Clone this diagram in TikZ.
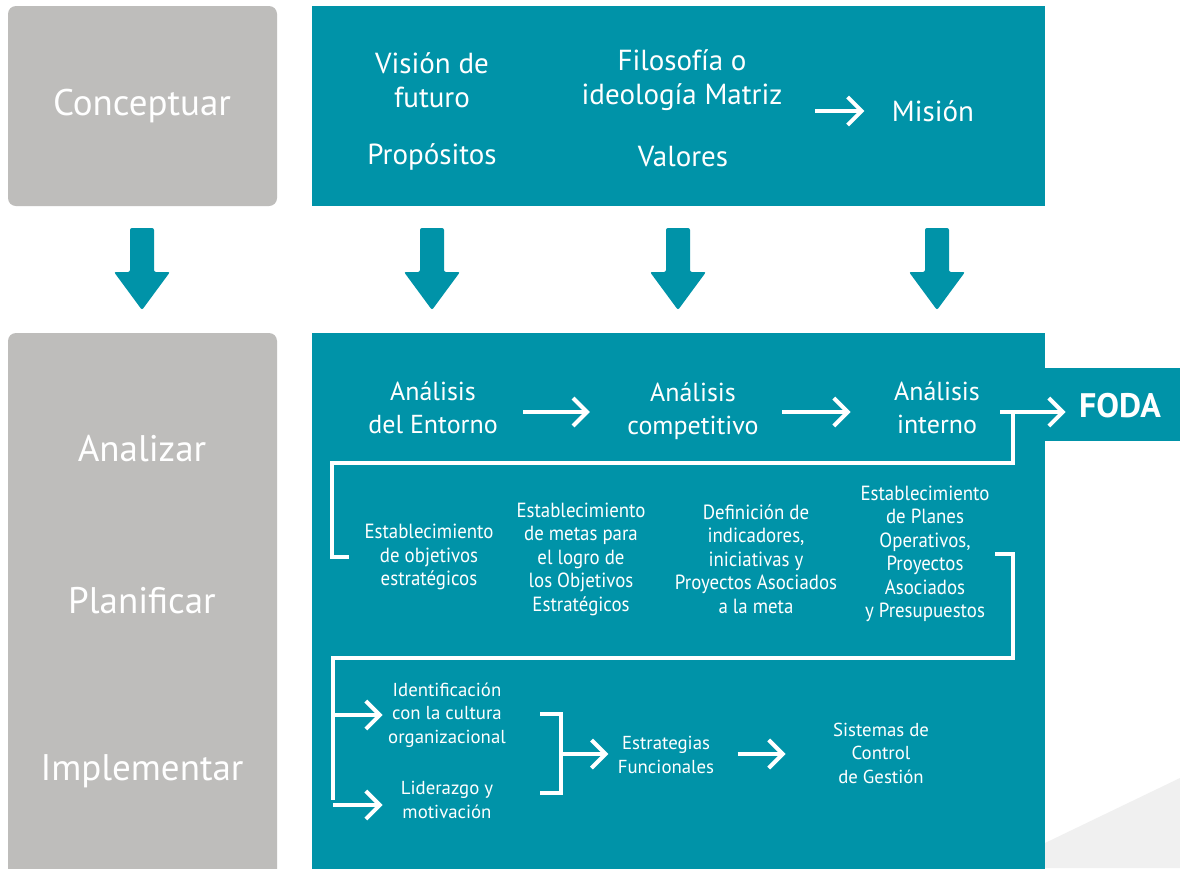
\documentclass[tikz,border=0pt]{standalone}
\usepackage{fontspec}
\setmainfont{PT Sans}
\newfontfamily\narrowfont[FakeStretch=0.92]{PT Sans}
\usetikzlibrary{arrows.meta,positioning}
\definecolor{tealbg}{HTML}{0093A8}
\definecolor{stepgray}{HTML}{BEBDBB}
\definecolor{cornergray}{HTML}{F0F0F0}
\tikzset{
  phase/.style={fill=stepgray, rounded corners=8pt},
  phaselabel/.style={text=white, font=\fontsize{37}{40}\selectfont},
  bigtxt/.style={text=white, align=center, font=\fontsize{29}{34}\selectfont},
  stagetxt/.style={text=white, align=center, font=\fontsize{26}{33}\selectfont},
  midtxt/.style={text=white, align=center, font=\narrowfont\fontsize{20.5}{23.5}\selectfont},
  lowtxt/.style={text=white, align=center, font=\fontsize{18.8}{23.5}\selectfont},
  fodatxt/.style={text=white, font=\bfseries\fontsize{34}{36}\selectfont},
  wline/.style={white, line width=4pt},
  warrow/.style={wline, -{Straight Barb[length=14pt,width=28pt]}},
}
\begin{document}
\begin{tikzpicture}[x=1pt,y=-1pt]
\clip (0,0) rectangle (1180,868);
\fill[white] (0,0) rectangle (1180,868);

% background panels
\fill[phase] (8,6) rectangle (277,206);
\fill[phase] (8,333) rectangle (277,900);
\fill[tealbg] (312,6) rectangle (1045,206);
\fill[tealbg] (312,333) rectangle (1045,900);
\fill[tealbg] (1045,368) rectangle (1180,441);
\fill[cornergray] (1045,843) -- (1180,778) -- (1180,868) -- (1045,868) -- cycle;

% down arrows
\foreach \cx in {142,432,678,937}
  \fill[tealbg, rounded corners=2pt] (\cx-12,228) -- (\cx+12,228) -- (\cx+12,272)
    -- (\cx+28,272) -- (\cx,310) -- (\cx-28,272) -- (\cx-12,272) -- cycle;

% phases
\node[phaselabel] (conceptuar) at (142,106) {Conceptuar};
\node[phaselabel] (analizar) at (142,449) {Analizar};
\node[phaselabel] (planificar) at (142,601) {Planificar};
\node[phaselabel] (implementar) at (142,771) {Implementar};

% conceptuar
\node[bigtxt] (vision) at (432,80) {Visión de\\futuro};
\node[bigtxt] (propositos) at (432,157) {Propósitos};
\node[bigtxt] (filosofia) at (682,80) {Filosofía o\\ideología Matriz};
\node[bigtxt] (valores) at (683,157) {Valores};
\node[bigtxt] (mision) at (933,111) {Misión};
\draw[warrow] ([xshift=29pt]filosofia.east |- mision) -- ([xshift=-24pt]mision.west);

% analizar
\node[stagetxt] (entorno) at (433,408) {Análisis\\del Entorno};
\node[stagetxt] (competitivo) at (693,411) {Análisis\\competitivo};
\node[stagetxt] (interno) at (937,408) {Análisis\\interno};
\node[fodatxt] (foda) at (1120,406) {FODA};
\coordinate (j1) at (1013,412);
\draw[warrow] ([xshift=22pt]entorno.east |- j1) -- ([xshift=-34pt]competitivo.west |- j1);
\draw[warrow] ([xshift=20pt]competitivo.east |- j1) -- ([xshift=-40pt]interno.west |- j1);
\draw[warrow] ([xshift=17pt]interno.east |- j1) -- ([xshift=-10pt]foda.west |- j1);

% planificar
\node[midtxt] (objetivos) at (429,557) {Establecimiento\\de objetivos\\estratégicos};
\node[midtxt] (metas) at (581,559) {Establecimiento\\de metas para\\el logro de\\los Objetivos\\Estratégicos};
\node[midtxt] (indicadores) at (756,559) {Definición de\\indicadores,\\iniciativas y\\Proyectos Asociados\\a la meta};
\node[midtxt] (planes) at (925,554) {Establecimiento\\de Planes\\Operativos,\\Proyectos\\Asociados\\y Presupuestos};
\coordinate (t1) at (332,463);
\draw[wline] (j1) |- (t1) |- ([xshift=-12pt]objetivos.west);

% implementar
\node[lowtxt] (identificacion) at (447,715) {Identificación\\con la cultura\\organizacional};
\node[lowtxt] (liderazgo) at (447,800) {Liderazgo y\\motivación};
\node[lowtxt] (estrategias) at (666,755) {Estrategias\\Funcionales};
\node[lowtxt] (sistemas) at (881,753) {Sistemas de\\Control\\de Gestión};
\coordinate (j2) at (1013,658);
\coordinate (j3) at (333,658);
\draw[wline] ([xshift=2pt]planes.east) -| (j2) -- (j3) -- (j3 |- liderazgo);
\draw[warrow] (j3 |- identificacion) -- ([xshift=-2pt]identificacion.west);
\draw[warrow] (j3 |- 0,805) -- ([xshift=-2pt]identificacion.west |- 0,805);
\coordinate (b1) at (540,714);
\coordinate (b2) at (540,793);
\coordinate (m) at (561,754);
\draw[wline] (b1) -| (m) |- (b2);
\draw[warrow] (m) -- ([xshift=-6pt]estrategias.west |- m);
\draw[warrow] ([xshift=20pt]estrategias.east |- m) -- ([xshift=-44pt]sistemas.west |- m);
\end{tikzpicture}
\end{document}
